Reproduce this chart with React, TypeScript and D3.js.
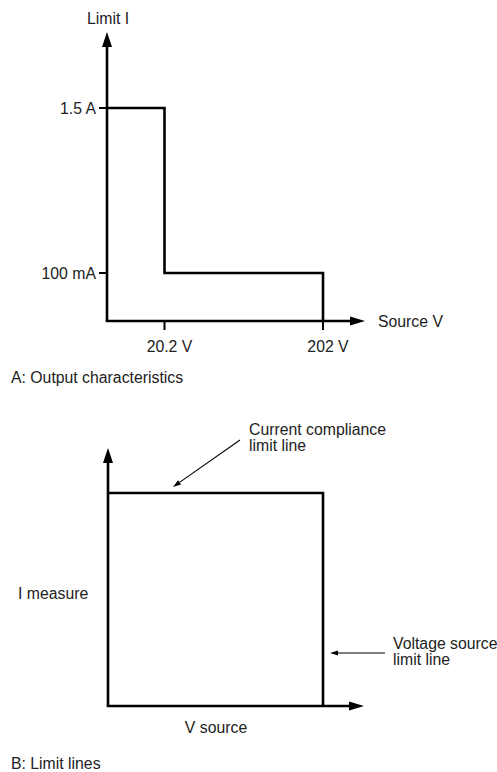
import React from "react";
import * as d3 from "d3";

// Panel A: output characteristics (piecewise scales: schematic, not to scale)
const voltTicks = [20.2, 202];
const voltLabels = ["20.2 V", "202 V"];
const currTicks = [0.1, 1.5];
const currLabels = ["100 mA", "1.5 A"];
const limitV = [0, 20.2, 20.2, 202, 202];
const limitI = [1.5, 1.5, 0.1, 0.1, 0];

// Panel B: limit lines (normalized)
const boxV = [0, 1, 1];
const boxI = [1, 1, 0];

const FONT = "'Liberation Sans', Arial, Helvetica, sans-serif";
const FS = 15.8;

function ArrowHead({ x, y, dir, len = 15, w = 10, fill = "#000" }: any) {
  let pts: number[][];
  if (dir === "up") pts = [[x, y], [x - w / 2, y + len], [x + w / 2, y + len]];
  else pts = [[x, y], [x - len, y - w / 2], [x - len, y + w / 2]];
  return <path d={d3.line()(pts as any) + "Z"} fill={fill} />;
}

function ThinArrow({ x1, y1, x2, y2 }: any) {
  const ang = Math.atan2(y2 - y1, x2 - x1);
  const len = 8, w = 2.6;
  const bx = x2 - len * Math.cos(ang), by = y2 - len * Math.sin(ang);
  const px = -Math.sin(ang) * w, py = Math.cos(ang) * w;
  return (
    <g>
      <line x1={x1} y1={y1} x2={bx} y2={by} stroke="#000" strokeWidth={1.1} />
      <path d={`M${x2},${y2}L${bx + px},${by + py}L${bx - px},${by - py}Z`} fill="#000" />
    </g>
  );
}

export default function App() {
  const SW = 2.6;
  // Panel A scales
  const xA = d3.scaleLinear().domain([0, 20.2, 202]).range([107, 164.5, 323]);
  const yA = d3.scaleLinear().domain([0, 0.1, 1.5]).range([321, 273, 108]);
  const lineA = d3.line<number>().x((_, i) => xA(limitV[i])).y((d) => yA(d));
  const axisTopA = 32, axisRightA = 365;

  // Panel B scales
  const xB = d3.scaleLinear().domain([0, 1]).range([108, 323]);
  const yB = d3.scaleLinear().domain([0, 1]).range([706, 493]);
  const lineB = d3.line<number>().x((_, i) => xB(boxV[i])).y((d) => yB(d));
  const axisTopB = 448, axisRightB = 364;

  const txt = { fontFamily: FONT, fontSize: FS, fill: "#222" } as any;

  return (
    <svg width={497} height={772} style={{ position: "absolute", left: 0, top: 0, background: "#fff" }}>
      <rect width={497} height={772} fill="#fff" />
      {/* ===== Panel A ===== */}
      <g>
        <line x1={xA(0)} y1={yA(0)} x2={xA(0)} y2={axisTopA + 12} stroke="#000" strokeWidth={SW} />
        <ArrowHead x={xA(0)} y={axisTopA} dir="up" />
        <line x1={xA(0) - SW / 2} y1={yA(0)} x2={axisRightA - 12} y2={yA(0)} stroke="#000" strokeWidth={SW} />
        <ArrowHead x={axisRightA} y={yA(0)} dir="right" len={15} w={9} />
        <text x={xA(0) + 1} y={18} textAnchor="middle" dominantBaseline="central" {...txt}>Limit I</text>
        <text x={axisRightA + 13} y={yA(0)} dominantBaseline="central" {...txt}>Source V</text>
        <path d={lineA(limitI) || ""} fill="none" stroke="#000" strokeWidth={SW} strokeLinejoin="miter" />
        {currTicks.map((c, i) => (
          <g key={"ct" + i}>
            <line x1={xA(0) - 8} x2={xA(0)} y1={yA(c)} y2={yA(c)} stroke="#000" strokeWidth={2} />
            <text x={xA(0) - 11} y={yA(c)} textAnchor="end" dominantBaseline="central" {...txt}>{currLabels[i]}</text>
          </g>
        ))}
        {voltTicks.map((v, i) => (
          <g key={"vt" + i}>
            <line x1={xA(v)} x2={xA(v)} y1={yA(0)} y2={yA(0) + 9} stroke="#000" strokeWidth={2} />
            <text x={xA(v) + 5} y={346} textAnchor="middle" dominantBaseline="central" {...txt}>{voltLabels[i]}</text>
          </g>
        ))}
        <text x={11} y={377} dominantBaseline="central" {...txt}>A: Output characteristics</text>
      </g>

      {/* ===== Panel B ===== */}
      <g>
        <line x1={xB(0)} y1={yB(0)} x2={xB(0)} y2={axisTopB + 12} stroke="#000" strokeWidth={SW} />
        <ArrowHead x={xB(0)} y={axisTopB} dir="up" />
        <line x1={xB(0) - SW / 2} y1={yB(0)} x2={axisRightB - 12} y2={yB(0)} stroke="#000" strokeWidth={SW} />
        <ArrowHead x={axisRightB} y={yB(0)} dir="right" len={15} w={9} />
        <path d={`M${xB(0)},${yB(1)}` + (lineB(boxI) || "").replace(/^M/, "L")} fill="none" stroke="#000" strokeWidth={SW} />
        <text x={18} y={593} dominantBaseline="central" {...txt}>I measure</text>
        <text x={216} y={727} textAnchor="middle" dominantBaseline="central" {...txt}>V source</text>
        <text x={249} y={429} dominantBaseline="central" {...txt}>Current compliance</text>
        <text x={249} y={445} dominantBaseline="central" {...txt}>limit line</text>
        <ThinArrow x1={240} y1={440} x2={173} y2={487} />
        <text x={393} y={643} dominantBaseline="central" {...txt}>Voltage source</text>
        <text x={393} y={659} dominantBaseline="central" {...txt}>limit line</text>
        <ThinArrow x1={385} y1={653} x2={330} y2={653} />
        <text x={11} y={763} dominantBaseline="central" {...txt}>B: Limit lines</text>
      </g>
    </svg>
  );
}
